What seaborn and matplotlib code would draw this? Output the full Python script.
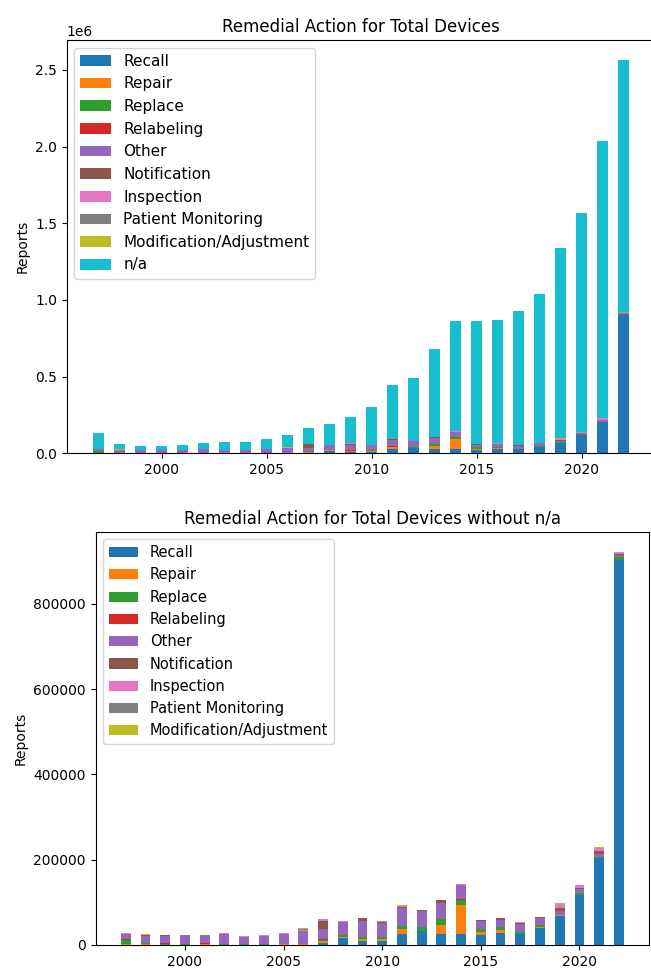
import numpy as np
import pandas as pd
import matplotlib
matplotlib.use("Agg")
import matplotlib.pyplot as plt
from matplotlib.patches import Patch
import seaborn as sns

years = list(range(1997, 2023))

categories = ["Recall", "Repair", "Replace", "Relabeling", "Other", "Notification",
              "Inspection", "Patient Monitoring", "Modification/Adjustment", "n/a"]

recall = [500, 500, 300, 200, 200, 200, 200, 300, 500, 1000, 4700, 15700, 9400,
          8600, 25900, 32900, 25900, 25900, 23500, 27400, 25100, 40800, 68200,
          117600, 203800, 902800]
repair = [2500, 3000, 300, 300, 1500, 300, 200, 300, 1000, 300, 4700, 3900, 5500,
          4700, 12500, 500, 20400, 68200, 7000, 7800, 300, 300, 1500,
          500, 500, 500]
replace = [9500, 1000, 2500, 2500, 500, 2500, 2000, 2500, 500, 1000, 3000, 3000, 3100,
           5500, 5500, 8600, 14900, 12500, 7800, 6300, 5500, 6000, 1500,
           4700, 2600, 6300]
relabeling = [1000, 500, 1000, 300, 2000, 300, 200, 300, 1500, 300, 500, 300, 300,
              300, 500, 300, 300, 300, 300, 300, 200, 200, 300,
              300, 300, 300]
other = [11500, 17000, 18000, 18000, 17000, 21500, 17000, 18500, 22000, 29900, 23500,
         30000, 38900, 33400, 41800, 37600, 37300, 33400, 17700, 16200, 17800, 17000,
         9400, 7500, 7000, 4500]
notification = [500, 500, 500, 300, 300, 300, 300, 300, 300, 1200, 21000, 500, 5500,
                300, 3900, 1500, 6300, 500, 1500, 4700, 3100, 300, 7000,
                3900, 5500, 3000]
inspection = [3500, 300, 100, 100, 300, 3000, 300, 1000, 1500, 1500, 3000, 2300, 1500,
              3600, 300, 200, 0, 2000, 1500, 1500, 1300, 2000, 7800,
              5500, 7800, 5000]
patient_monitoring = [0, 200, 0, 900, 800, 0, 900, 200, 0, 1500, 500, 0, 100,
                      0, 0, 0, 0, 0, 0, 100, 0, 0, 500,
                      0, 0, 0]
modification = [0, 2000, 0, 100, 100, 100, 100, 100, 100, 2500, 500, 0, 0,
                0, 3600, 1500, 0, 1400, 300, 0, 0, 0, 3400,
                0, 3000, 0]
not_available = [103000, 38000, 22900, 22900, 31500, 39100, 54800, 52500, 68100,
                 77800, 103600, 137300, 171700, 245300, 350900, 407900, 574900,
                 717800, 802400, 803700, 872700, 970400, 1236400, 1424000,
                 1802500, 1643600]

series = [recall, repair, replace, relabeling, other, notification, inspection,
          patient_monitoring, modification, not_available]

palette = dict(zip(categories, sns.color_palette("tab10", 10)))

long = pd.DataFrame(
    [(y, c, v) for c, vals in zip(categories, series) for y, v in zip(years, vals)],
    columns=["year", "action", "reports"],
)

W, H = 651, 969
fig = plt.figure(figsize=(W / 100, H / 100), dpi=100)


def axes_px(left, right, top, bottom):
    return fig.add_axes([left / W, 1 - bottom / H, (right - left) / W, (bottom - top) / H])


def stacked(ax, data, cats, title, legend_size):
    # seaborn stacks the last hue level at the bottom, so feed the order reversed
    sns.histplot(data=data, x="year", weights="reports", hue="action",
                 hue_order=cats[::-1], palette=palette, multiple="stack",
                 discrete=True, shrink=0.5, alpha=1, edgecolor="none",
                 linewidth=0, legend=False, ax=ax)
    ax.set_title(title, fontsize=12)
    ax.set_xlabel("")
    ax.set_ylabel("Reports")
    handles = [Patch(facecolor=palette[c], label=c) for c in cats]
    ax.legend(handles=handles, loc="upper left", fontsize=legend_size)


ax1 = axes_px(66.7, 655.7, 40, 453.3)
stacked(ax1, long, categories, "Remedial Action for Total Devices", 11)

ax2 = axes_px(95.7, 649, 532, 945)
stacked(ax2, long[long["action"] != "n/a"], categories[:-1],
        "Remedial Action for Total Devices without n/a", 10.5)

fig.savefig("out.png", dpi=100)
